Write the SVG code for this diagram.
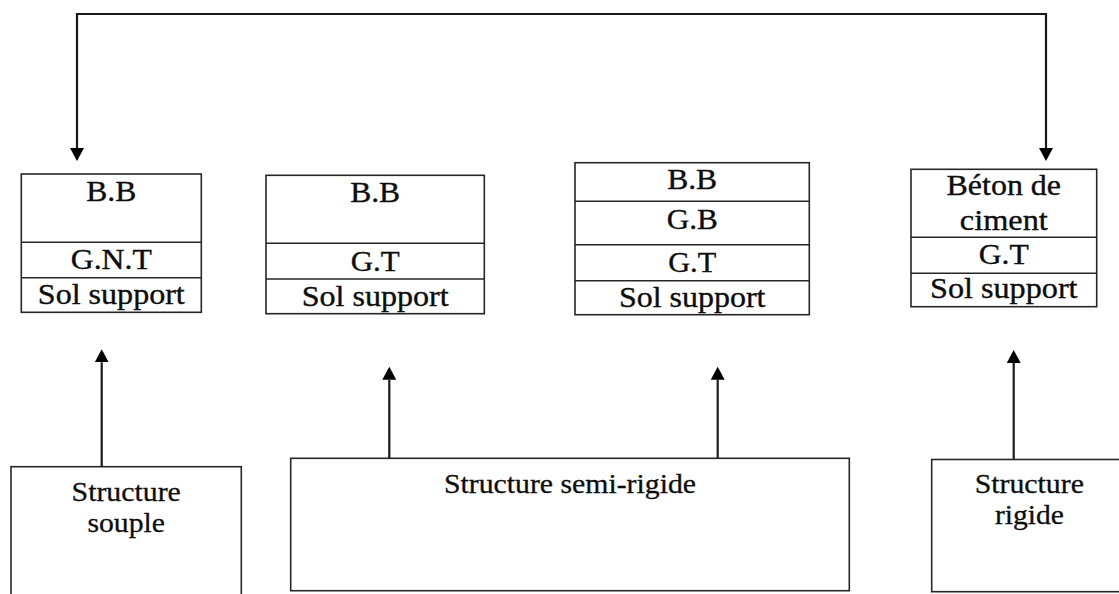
<svg xmlns="http://www.w3.org/2000/svg" width="1119" height="594" viewBox="0 0 1119 594">
  <style>
    .cell { fill: #ffffff; stroke: #262626; stroke-width: 1.6; }
    .sep { stroke: #262626; stroke-width: 1.6; fill: none; }
    .lbl { font-family: "Liberation Serif", "Times New Roman", serif; font-size: 28.5px; fill: #0d0d0d; stroke: #0d0d0d; stroke-width: 0.35; text-anchor: middle; }
    .lbl2 { font-family: "Liberation Serif", "Times New Roman", serif; font-size: 27.5px; fill: #0d0d0d; stroke: #0d0d0d; stroke-width: 0.3; text-anchor: middle; }
    .wire { fill: none; stroke: #1a1a1a; stroke-width: 2.2; }
  </style>
  <defs>
    <marker id="head" viewBox="0 0 13 14" refX="0" refY="7" markerWidth="13" markerHeight="14" markerUnits="userSpaceOnUse" orient="auto-start-reverse">
      <path d="M0,0 L13,7 L0,14 z" fill="#000000"/>
    </marker>
  </defs>

  <rect width="1119" height="594" fill="#ffffff"/>

  <!-- pavement cross-sections -->
  <g id="layers-souple">
    <rect class="cell" x="21.3" y="174" width="180" height="138.3"/>
    <line class="sep" x1="21.3" y1="242.3" x2="201.3" y2="242.3"/>
    <line class="sep" x1="21.3" y1="277.7" x2="201.3" y2="277.7"/>
    <text class="lbl" x="111.3" y="200.5" textLength="50" lengthAdjust="spacingAndGlyphs">B.B</text>
    <text class="lbl" x="111.3" y="269.3" textLength="81" lengthAdjust="spacingAndGlyphs">G.N.T</text>
    <text class="lbl" x="111.3" y="304.3" textLength="147" lengthAdjust="spacingAndGlyphs">Sol support</text>
  </g>

  <g id="layers-semi-rigide-1">
    <rect class="cell" x="266" y="175.3" width="218.3" height="138.4"/>
    <line class="sep" x1="266" y1="243.3" x2="484.3" y2="243.3"/>
    <line class="sep" x1="266" y1="279" x2="484.3" y2="279"/>
    <text class="lbl" x="375.2" y="201.7" textLength="50" lengthAdjust="spacingAndGlyphs">B.B</text>
    <text class="lbl" x="375.2" y="270.7" textLength="49" lengthAdjust="spacingAndGlyphs">G.T</text>
    <text class="lbl" x="375.2" y="305.7" textLength="147" lengthAdjust="spacingAndGlyphs">Sol support</text>
  </g>

  <g id="layers-semi-rigide-2">
    <rect class="cell" x="575" y="162.7" width="234.3" height="152"/>
    <line class="sep" x1="575" y1="201.3" x2="809.3" y2="201.3"/>
    <line class="sep" x1="575" y1="244.7" x2="809.3" y2="244.7"/>
    <line class="sep" x1="575" y1="280.7" x2="809.3" y2="280.7"/>
    <text class="lbl" x="692.2" y="189.3" textLength="50" lengthAdjust="spacingAndGlyphs">B.B</text>
    <text class="lbl" x="692.2" y="229" textLength="51" lengthAdjust="spacingAndGlyphs">G.B</text>
    <text class="lbl" x="692.2" y="272" textLength="48" lengthAdjust="spacingAndGlyphs">G.T</text>
    <text class="lbl" x="692.2" y="306.7" textLength="146.5" lengthAdjust="spacingAndGlyphs">Sol support</text>
  </g>

  <g id="layers-rigide">
    <rect class="cell" x="911" y="169.3" width="185.7" height="137.4"/>
    <line class="sep" x1="911" y1="237.3" x2="1096.7" y2="237.3"/>
    <line class="sep" x1="911" y1="273.3" x2="1096.7" y2="273.3"/>
    <text class="lbl" x="1003.8" y="195" textLength="114.5" lengthAdjust="spacingAndGlyphs">Béton de</text>
    <text class="lbl" x="1003.8" y="230" textLength="88" lengthAdjust="spacingAndGlyphs">ciment</text>
    <text class="lbl" x="1003.8" y="264" textLength="50" lengthAdjust="spacingAndGlyphs">G.T</text>
    <text class="lbl" x="1003.8" y="298.3" textLength="147.5" lengthAdjust="spacingAndGlyphs">Sol support</text>
  </g>

  <!-- structure type boxes -->
  <g id="structure-souple">
    <rect class="cell" x="11" y="466.7" width="230.3" height="140"/>
    <text class="lbl2" x="126.2" y="500.7" textLength="109.3" lengthAdjust="spacingAndGlyphs">Structure</text>
    <text class="lbl2" x="126.2" y="531.7" textLength="77.5" lengthAdjust="spacingAndGlyphs">souple</text>
  </g>

  <g id="structure-semi-rigide">
    <rect class="cell" x="290.7" y="458.3" width="558.6" height="132.4"/>
    <text class="lbl2" x="570" y="493.3" textLength="252" lengthAdjust="spacingAndGlyphs">Structure semi-rigide</text>
  </g>

  <g id="structure-rigide">
    <rect class="cell" x="931.7" y="459.5" width="195" height="132.2"/>
    <text class="lbl2" x="1029.3" y="492.7" textLength="109.3" lengthAdjust="spacingAndGlyphs">Structure</text>
    <text class="lbl2" x="1029.5" y="524" textLength="69" lengthAdjust="spacingAndGlyphs">rigide</text>
  </g>

  <!-- connectors -->
  <g id="connectors">
    <path class="wire" d="M77,148 V14 H1046 V148" marker-start="url(#head)" marker-end="url(#head)"/>
    <path class="wire" d="M101.7,466.7 V362.3" marker-end="url(#head)"/>
    <path class="wire" d="M389.3,458.3 V379.7" marker-end="url(#head)"/>
    <path class="wire" d="M717.7,458.3 V379.7" marker-end="url(#head)"/>
    <path class="wire" d="M1013.7,459.5 V363" marker-end="url(#head)"/>
  </g>
</svg>
